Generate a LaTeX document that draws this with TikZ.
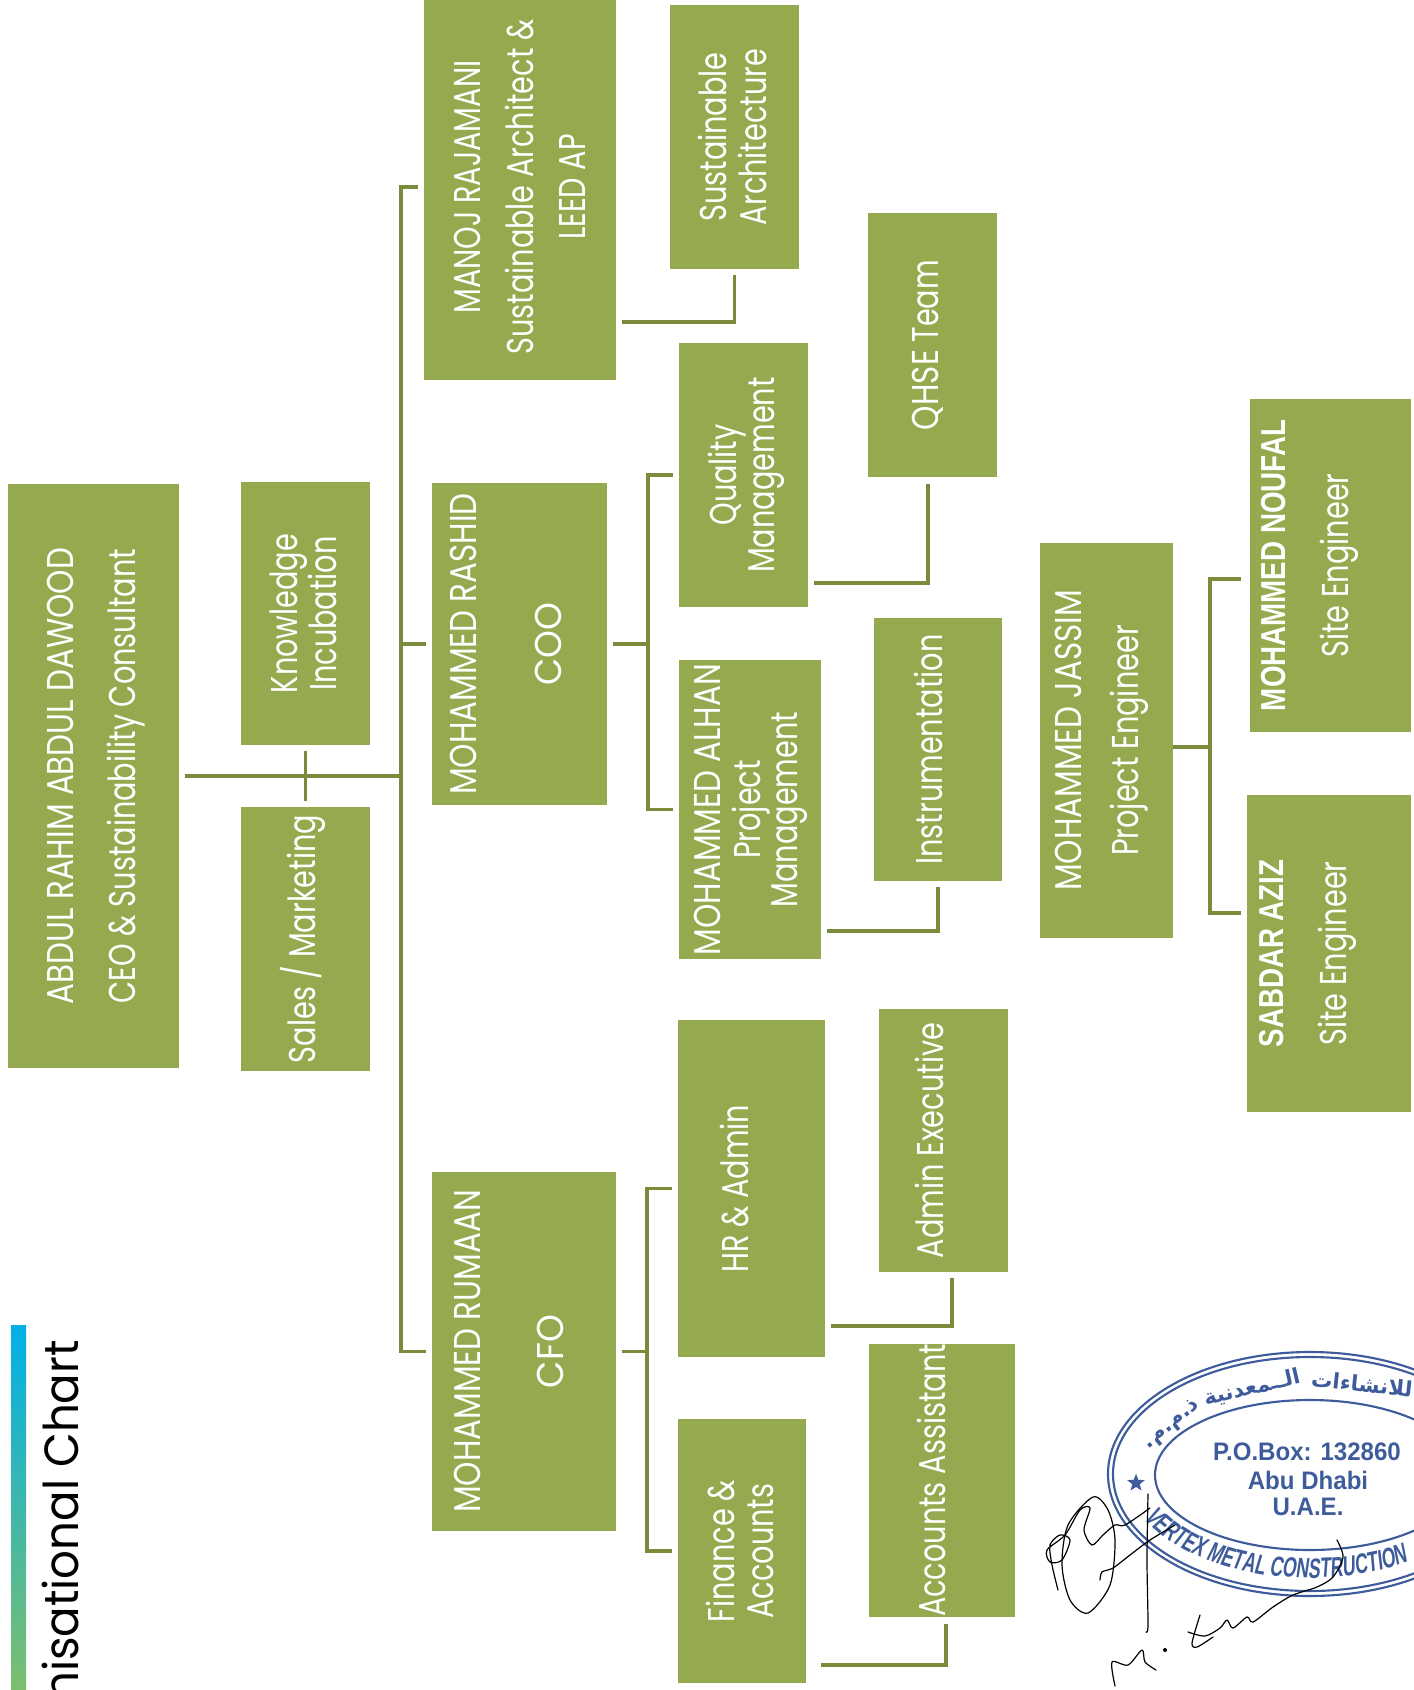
\documentclass[tikz,border=0pt]{standalone}
\usepackage{fontspec}
\usepackage{graphicx}
\usetikzlibrary{decorations.text,shapes.geometric}
\TeXXeTstate=1
\setmainfont{Poppins}[FakeStretch=0.77]
\newfontfamily\capsfont{Poppins}[FakeStretch=0.83]
\newfontfamily\widefont{Poppins}[FakeStretch=0.95]
\newfontfamily\titlefont{Poppins}[FakeStretch=0.94]
\newfontfamily\namefont{Liberation Sans}[FakeStretch=0.8]
\newfontfamily\stamplabelfont{Liberation Sans}[FakeStretch=0.95]
\newfontfamily\stampfont{Liberation Sans}[FakeStretch=0.63,FakeSlant=0.12]
\newfontfamily\arabicfont[Script=Arabic]{DejaVu Sans}
\definecolor{boxgreen}{RGB}{149,170,78}
\definecolor{linegreen}{RGB}{122,140,60}
\definecolor{stampblue}{RGB}{62,92,155}
\definecolor{barblue}{RGB}{0,176,232}
\definecolor{bargreen}{RGB}{124,190,110}
\newcommand{\boxtext}[2][0pt]{\rotatebox{90}{\raisebox{#1}[\height][\depth]{\begin{tabular}{@{}c@{}}#2\end{tabular}}}}
\newcommand{\boldname}[1]{{\namefont\bfseries\fontsize{26}{28}\selectfont #1}}
\tikzset{
  orgbox/.style 2 args={fill=boxgreen,text=white,inner sep=0pt,minimum width=#1*0.75pt,minimum height=#2*0.75pt,font=\fontsize{28}{28}\selectfont},
  link/.style={draw=linegreen,line width=2.4pt,shorten <=4pt,shorten >=4pt},
  fork/.style={draw=linegreen,line width=2.4pt,shorten >=4pt},
  stampring/.style={draw=stampblue,line width=1.6pt},
  stamptext/.style={text=stampblue,font=\stamplabelfont\bfseries\fontsize{19}{20}\selectfont,inner sep=0pt},
  arabictext/.style={text=stampblue,font=\arabicfont\bfseries\fontsize{16}{18}\selectfont,inner sep=0pt},
  signline/.style={draw=black,line width=0.9pt,line cap=round,line join=round}
}

\begin{document}
\begin{tikzpicture}[x=0.75pt,y=0.75pt,yscale=-1,xscale=1]
\useasboundingbox (0,0) rectangle (1413,1690);

%Title and bar
\shade [top color=barblue,bottom color=bargreen] (11,1325) rectangle (26,1690);
\node [anchor=base east,rotate=90,inner sep=0pt,font=\titlefont\fontsize{36}{40}\selectfont] (title) at (78,1340) {nisational Chart};

%Boxes
\node [orgbox={171}{584}] (ceo) at (93.5,776) {\boxtext[-2.5pt]{{\capsfont ABDUL RAHIM ABDUL DAWOOD}\\[16.6pt]CEO \& Sustainability Consultant}};
\node [orgbox={129}{263}] (know) at (305.5,613.5) {\boxtext[-2.5pt]{Knowledge\\Incubation}};
\node [orgbox={129}{264}] (sales) at (305.5,939) {\boxtext[1.5pt]{Sales / Marketing}};
\node [orgbox={192}{386}] (manoj) at (520,187) {\boxtext[-4pt]{MANOJ RAJAMANI\\[10pt]Sustainable Architect \&\\[11.5pt]LEED AP}};
\node [orgbox={129}{264}] (sustain) at (734.5,137) {\boxtext[-2.5pt]{Sustainable\\Architecture}};
\node [orgbox={175}{322}] (rashid) at (519.5,644) {\boxtext[6pt]{{\capsfont MOHAMMED RASHID}\\[35pt]{\widefont COO}}};
\node [orgbox={129}{264}] (quality) at (743.5,475) {\boxtext[-2.5pt]{Quality\\Management}};
\node [orgbox={129}{264}] (qhse) at (932.5,345) {\boxtext[1.5pt]{{\capsfont QHSE} Team}};
\node [orgbox={142}{299}] (alhan) at (750,809.5) {\boxtext[-1pt]{{\capsfont MOHAMMED ALHAN}\\Project\\Management}};
\node [orgbox={128}{263}] (instr) at (938,749.5) {\boxtext[3pt]{Instrumentation}};
\node [orgbox={133}{395}] (jassim) at (1106.5,740.5) {\boxtext[3pt]{{\capsfont MOHAMMED JASSIM}\\[12.6pt]Project Engineer}};
\node [orgbox={161}{333}] (noufal) at (1330.5,565.5) {\boxtext[16pt]{\boldname{MOHAMMED NOUFAL}\\[17.4pt]Site Engineer}};
\node [orgbox={164}{317}] (sabdar) at (1329,953.5) {\boxtext[16pt]{\boldname{SABDAR AZIZ}\\[17.4pt]Site Engineer}};
\node [orgbox={184}{359}] (rumaan) at (524,1351.5) {\boxtext[7.3pt]{{\capsfont MOHAMMED RUMAAN}\\[33.6pt]{\widefont CFO}}};
\node [orgbox={147}{337}] (hr) at (751.5,1188.5) {\boxtext[9pt]{HR \& Admin}};
\node [orgbox={129}{263}] (admin) at (943.5,1140.5) {\boxtext[6.5pt]{Admin Executive}};
\node [orgbox={128}{264}] (finance) at (742,1551) {\boxtext[-2.5pt]{Finance \&\\[1.6pt]Accounts}};
\node [orgbox={146}{269}] (accounts) at (942,1480.5) {\boxtext[4pt]{Accounts Assistant}};

%Free ends of the connectors
\coordinate (trunk) at (401,776);
\coordinate (rashidfork) at (648,644);
\coordinate (rumaanfork) at (647,1351.5);
\coordinate (jassimout) at (1173,747);
\coordinate (jassimfork) at (1210,747);
\coordinate (noufalin) at (1246,579);
\coordinate (sabdarin) at (1246,913);
\coordinate (manojout) at (617,322);
\coordinate (qualityout) at (809,583);
\coordinate (qhsein) at (928,479);
\coordinate (alhanout) at (822,931);
\coordinate (instrin) at (938,882);
\coordinate (hrout) at (826,1326);
\coordinate (adminin) at (952,1273);
\coordinate (financeout) at (816,1665);
\coordinate (accountsin) at (946,1619);

%Connectors
\draw [link,shorten >=0pt] (ceo.east) -- (trunk);
\draw [link] (know.south) -- (sales.north);
\draw [fork] (trunk) |- (manoj.west);
\draw [fork] (trunk) |- (rashid.west);
\draw [fork] (trunk) |- (rumaan.west);
\draw [link] (manojout) -| (sustain.south);
\draw [link,shorten >=0pt] (rashid.east) -- (rashidfork);
\draw [fork] (rashidfork) |- (quality.west);
\draw [fork] (rashidfork) |- (alhan.west);
\draw [link] (qualityout) -| (qhsein);
\draw [link] (alhanout) -| (instrin);
\draw [link,shorten >=0pt] (rumaan.east) -- (rumaanfork);
\draw [fork] (rumaanfork) |- (hr.west);
\draw [fork] (rumaanfork) |- (finance.west);
\draw [link] (hrout) -| (adminin);
\draw [link] (financeout) -| (accountsin);
\draw [link,shorten <=0pt,shorten >=0pt] (jassimout) -- (jassimfork);
\draw [fork] (jassimfork) |- (noufalin);
\draw [fork] (jassimfork) |- (sabdarin);

%Stamp
\draw [stampring] (1310,1474) ellipse [x radius=202,y radius=122];
\draw [stampring] (1310,1474) ellipse [x radius=197,y radius=117];
\draw [stampring] (1310,1475) ellipse [x radius=155,y radius=75];
\node [star,star points=5,star point ratio=2.4,fill=stampblue,inner sep=0pt,minimum size=14pt] (stampstar) at (1136,1483) {};
\node [stamptext] (pobox) at (1307,1452) {P.O.Box: 132860};
\node [stamptext] (abudhabi) at (1308,1480) {Abu Dhabi};
\node [stamptext] (uae) at (1308,1507) {U.A.E.};
\node [arabictext,rotate=40] (arabicone) at (1172,1425) {\beginR ذ.م.م.\endR};
\node [arabictext,rotate=13] (arabictwo) at (1252,1388) {\beginR الــمعدنية\endR};
\node [arabictext,rotate=-6] (arabicthree) at (1362,1384) {\beginR للانشاءات\endR};
\path [decorate,decoration={text along path,text color=stampblue,text={|\stampfont\bfseries\fontsize{21}{22}\selectfont|VERTEX METAL CONSTRUCTION}}] ([shift={(155:184 and 104)}]1310,1474) arc [start angle=155,end angle=20,x radius=184,y radius=104];

%Signature
\draw [signline] plot [smooth cycle] coordinates {(1093,1497) (1108,1510) (1115,1540) (1110,1585) (1088,1613) (1070,1600) (1062,1565) (1068,1525)};
\draw [signline] plot [smooth] coordinates {(1058,1590) (1052,1565) (1050,1545) (1060,1535) (1070,1540) (1062,1560) (1050,1562) (1047,1550) (1065,1535) (1080,1510) (1090,1508) (1084,1530) (1092,1545) (1103,1535) (1115,1525) (1125,1525) (1150,1508)};
\draw [signline] plot [smooth] coordinates {(1100,1580) (1102,1572) (1113,1568) (1130,1555) (1150,1540) (1175,1525)};
\draw [signline] plot [smooth] coordinates {(1148,1494) (1147,1560) (1148,1625) (1146,1632)};
\draw [signline] plot [smooth] coordinates {(1115,1686) (1112,1662) (1128,1665) (1142,1650) (1145,1662) (1156,1670)};
\fill (1165,1650) circle [radius=2];
\draw [signline] plot [smooth] coordinates {(1200,1615) (1192,1643) (1197,1647) (1213,1637)};
\draw [signline] plot [smooth] coordinates {(1188,1632) (1205,1636) (1220,1628) (1227,1620) (1233,1628) (1247,1617) (1253,1622) (1273,1607) (1293,1595) (1317,1587) (1333,1577) (1343,1557) (1337,1540)};
\end{tikzpicture}
\end{document}
